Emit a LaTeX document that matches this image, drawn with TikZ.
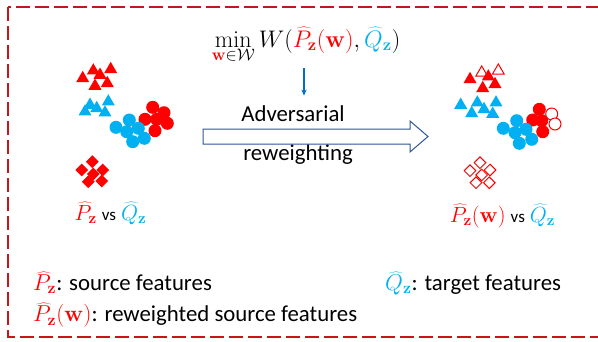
\RequirePackage{fix-cm}
\documentclass[tikz,border=0pt]{standalone}
\usepackage[no-math]{fontspec}
\setmainfont{Carlito}
\usetikzlibrary{shapes.geometric}
\usetikzlibrary{arrows.meta}

\definecolor{srcred}{HTML}{FF0000}
\definecolor{tgtblue}{HTML}{00B0F0}
\definecolor{framered}{HTML}{C4161C}
\definecolor{arrowblue}{HTML}{2F5597}
\definecolor{downblue}{HTML}{0070C0}

\newcommand{\Pz}{\textcolor{srcred}{\widehat{P}_{\mathbf{z}}}}
\newcommand{\Qz}{\textcolor{tgtblue}{\widehat{Q}_{\mathbf{z}}}}
\newcommand{\wpar}{\textcolor{srcred}{(\mathbf{w})}}
\newcommand{\legtxt}[1]{{\fontsize{22.8bp}{27bp}\selectfont #1}}
\newcommand{\lbltxt}[1]{{\fontsize{17bp}{20bp}\selectfont #1}}

\begin{document}
\begin{tikzpicture}[x=1bp, y=-1bp,
	tri/.style={regular polygon, regular polygon sides=3, inner sep=0pt, minimum size=15bp},
	dot/.style={circle, inner sep=0pt, minimum size=13bp},
	dia/.style={diamond, inner sep=0pt, minimum size=13bp},
	redtri/.style={tri, fill=srcred},
	bluetri/.style={tri, fill=tgtblue},
	redtrio/.style={tri, draw=srcred, line width=1bp, fill=white, minimum size=13.5bp},
	reddot/.style={dot, fill=srcred},
	bluedot/.style={dot, fill=tgtblue},
	reddoto/.style={dot, draw=srcred, line width=1bp, fill=white, minimum size=12bp},
	reddia/.style={dia, fill=srcred},
	reddiao/.style={dia, draw=srcred, line width=1bp, fill=white, minimum size=12bp},
	bigtext/.style={font=\fontsize{22.8bp}{27bp}\selectfont, inner sep=0pt},
	legend/.style={font=\fontsize{23bp}{27bp}\selectfont, inner sep=0pt, anchor=base west},
	clusterlbl/.style={font=\fontsize{22bp}{26bp}\selectfont, inner sep=0pt, anchor=base},
	pointer/.style={downblue, line width=1.5bp, -{Stealth[length=6bp, width=5bp]}}]
	\useasboundingbox (0,0) rectangle (598,341);

	% frame
	\draw[framered, line width=2bp, dash pattern=on 14bp off 5bp] (8,7) rectangle (620,337);

	% left clusters
	\foreach \x/\y [count=\i] in {82.7/78.3, 93.3/70.7, 110.7/69.3, 100/75, 107.3/83.3, 95/86}
		\node[redtri] (lrt\i) at (\x,\y) {};
	\foreach \x/\y [count=\i] in {90/105, 85/111.7, 96.7/108.3, 108.3/101.7, 105/112.7}
		\node[bluetri] (lbt\i) at (\x,\y) {};
	\foreach \x/\y [count=\i] in {152.7/107.3, 164/112.7, 145/119.3, 156.7/119.3, 167.3/123.3, 155/130.7}
		\node[reddot] (lrc\i) at (\x,\y) {};
	\foreach \x/\y [count=\i] in {116/127.3, 129.3/120, 126.7/131.7, 138.3/128.3, 132.7/141.7, 144.3/138.3}
		\node[bluedot] (lbc\i) at (\x,\y) {};
	\foreach \x/\y [count=\i] in {92.3/161.7, 81.7/170, 102.7/170, 93.3/174, 88.3/181.7, 101.7/181}
		\node[reddia] (lrd\i) at (\x,\y) {};

	% right clusters
	\foreach \x/\y [count=\i] in {481.7/72.7, 498.3/70.7}
		\node[redtrio] (rro\i) at (\x,\y) {};
	\foreach \x/\y [count=\i] in {470/79.3, 488.3/76.7, 495/84.3, 482.7/88.3}
		\node[redtri] (rrt\i) at (\x,\y) {};
	\foreach \x/\y [count=\i] in {460.7/105, 477.3/102.7, 471.7/113.3, 484/109.3, 496/102.7, 492.7/114}
		\node[bluetri] (rbt\i) at (\x,\y) {};
	\foreach \x/\y [count=\i] in {551.7/114, 555/124}
		\node[reddoto] (rco\i) at (\x,\y) {};
	\foreach \x/\y [count=\i] in {539.3/109.3, 532.7/120, 541.7/120.7, 542.7/131.7}
		\node[reddot] (rrc\i) at (\x,\y) {};
	\foreach \x/\y [count=\i] in {503.3/128.3, 516.7/120.7, 515/132.7, 526/129.3, 519.3/143.3, 531.7/139.3}
		\node[bluedot] (rbc\i) at (\x,\y) {};
	\foreach \x/\y [count=\i] in {480/162.7, 470/170.7, 490/170, 481.7/175, 476/182.7, 489.3/182.7}
		\node[reddiao] (rrd\i) at (\x,\y) {};

	% labels
	\node[clusterlbl] (leftlbl) at (110.5,220) {$\Pz$ \lbltxt{vs} $\Qz$};
	\node[clusterlbl] (rightlbl) at (502.5,222) {$\Pz\wpar$ \lbltxt{vs} $\Qz$};

	% objective and arrows
	\node[anchor=base, inner sep=0pt, font=\fontsize{24bp}{28bp}\selectfont] (objective) at (306,47)
		{$\displaystyle\min_{\textcolor{srcred}{\mathbf{w}}\in\mathcal{W}} W\bigl(\Pz\wpar, \Qz\bigr)$};
	\node[bigtext, anchor=base] (adv) at (293,121.7) {Adversarial};
	\node[bigtext, anchor=base] (rew) at (298,160) {reweighting};
	\draw[pointer] ([xshift=-2bp]objective.south) -- ([xshift=-2bp]objective.south |- adv.north)
		[shorten <=6bp, shorten >=10bp];
	\draw[arrowblue, line width=1bp, fill=white] (203,129) -- (410,129) -- (410,121) -- (428,136.5)
		-- (410,152) -- (410,144) -- (203,144) -- cycle;

	% legend
	\node[legend] (srcleg) at (33,290.5) {$\Pz$\legtxt{: source features}};
	\node[legend] (rwleg) at (33,321.7) {$\Pz\wpar$\legtxt{: reweighted source features}};
	\node[legend] (tgtleg) at (385,290.5) {$\Qz$\legtxt{: target features}};
\end{tikzpicture}
\end{document}
